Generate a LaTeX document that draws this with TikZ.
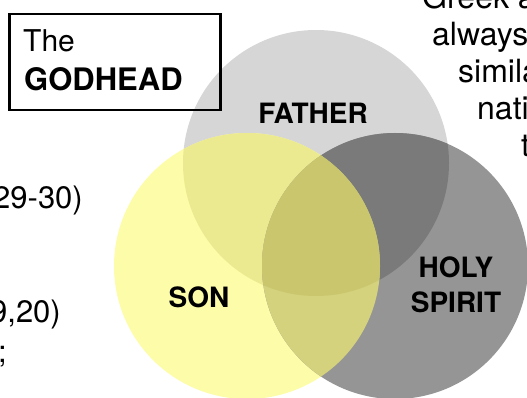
\documentclass[tikz,border=0pt]{standalone}
\usepackage{fontspec}
\setmainfont{TeX Gyre Heros}
\usetikzlibrary{positioning}

\definecolor{fathergray}{HTML}{D6D6D6}
\definecolor{sonyellow}{HTML}{FDFCA8}
\definecolor{spiritgray}{HTML}{959595}
\definecolor{fatherson}{HTML}{ECEA90}
\definecolor{fatherspirit}{HTML}{7A7A7A}
\definecolor{sonspirit}{HTML}{D4D27C}
\definecolor{allthree}{HTML}{C9C66E}

\begin{document}
\begin{tikzpicture}[x=1pt,y=-1pt,
                    venn label/.style={font=\fontsize{28}{34}\selectfont\bfseries, inner sep=0pt, anchor=base},
                    side text/.style={font=\fontsize{31}{37}\selectfont, inner sep=0pt},
                    title box/.style={draw=black, line width=2.5pt, rectangle, minimum width=211pt, minimum height=96pt, anchor=north west}]
  \useasboundingbox (0,0) rectangle (527,398);
  \clip (0,0) rectangle (527,398);
  \def\rad{133pt}
  \coordinate (FatherC) at (316,163);
  \coordinate (SonC) at (247,266);
  \coordinate (SpiritC) at (395,266);

  % the three circles
  \fill[fathergray] (FatherC) circle (\rad);
  \fill[sonyellow] (SonC) circle (\rad);
  \fill[spiritgray] (SpiritC) circle (\rad);
  % overlaps
  \begin{scope}
    \clip (FatherC) circle (\rad);
    \fill[fatherson] (SonC) circle (\rad);
    \fill[fatherspirit] (SpiritC) circle (\rad);
  \end{scope}
  \begin{scope}
    \clip (SonC) circle (\rad);
    \fill[sonspirit] (SpiritC) circle (\rad);
    \clip (FatherC) circle (\rad);
    \fill[allthree] (SpiritC) circle (\rad);
  \end{scope}

  \node (Father) [venn label] at (313,124) {FATHER};
  \node (Son) [venn label] at (199,307) {SON};
  \node (Holy) [venn label] at (456,277) {HOLY};
  \node (Spirit) [venn label] at (456,312) {SPIRIT};

  % title box
  \node (TitleBox) [title box] at (8,13) {};
  \node (The) [side text, anchor=base west, font=\fontsize{30}{37}\selectfont] at (23,52) {The};
  \node (Godhead) [side text, anchor=base west, font=\fontsize{31}{37}\selectfont\bfseries] at (24,91) {GODHEAD};

  % text cut off at the left edge
  \node (LeftA) [side text, anchor=base east] at (83,208) {29-30)};
  \node (LeftB) [side text, anchor=base east] at (61,322) {9,20)};
  \node (LeftC) [side text, anchor=base east] at (7,362) {;};

  % text cut off at the right edge
  \node (RightA) [side text, anchor=base west, font=\fontsize{32}{37}\selectfont] at (422,9) {Greek a};
  \node (RightB) [side text, anchor=base west, font=\fontsize{32}{37}\selectfont] at (432,46) {always};
  \node (RightC) [side text, anchor=base west, font=\fontsize{32}{37}\selectfont] at (458,83) {simila};
  \node (RightD) [side text, anchor=base west, font=\fontsize{32}{37}\selectfont] at (477,120) {nati};
  \node (RightE) [side text, anchor=base west, font=\fontsize{32}{37}\selectfont] at (521,157) {t};
\end{tikzpicture}
\end{document}
